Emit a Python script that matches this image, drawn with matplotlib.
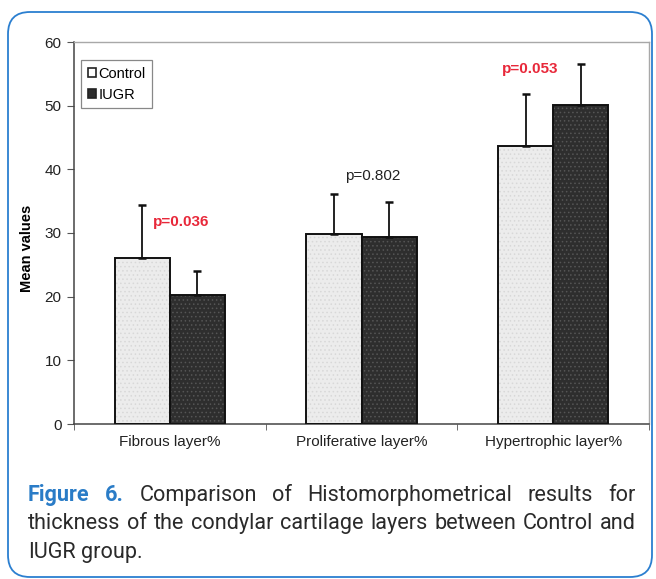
import matplotlib
matplotlib.use("Agg")
import matplotlib.pyplot as plt
from matplotlib.patches import FancyBboxPatch, Patch
from matplotlib.transforms import IdentityTransform
import numpy as np

categories = ["Fibrous layer%", "Proliferative layer%", "Hypertrophic layer%"]
control_mean = [26.1, 29.9, 43.7]
control_err = [8.3, 6.3, 8.1]
iugr_mean = [20.3, 29.3, 50.1]
iugr_err = [3.7, 5.5, 6.5]
p_labels = ["p=0.036", "p=0.802", "p=0.053"]
p_colors = ["#e8283a", "#222222", "#e8283a"]
p_bold = [True, False, True]
p_x = [0.06, 1.06, 1.88]
p_y = [31.8, 38.9, 55.8]
yticks = [0, 10, 20, 30, 40, 50, 60]

W, H = 656, 579
fig = plt.figure(figsize=(W / 100, H / 100), dpi=100)
fig.patch.set_facecolor("white")

# outer rounded border (pixel coordinates)
border = FancyBboxPatch((8, H - 577), 644, 577 - 12,
                        boxstyle="round,pad=0,rounding_size=22",
                        transform=IdentityTransform(), fill=False,
                        edgecolor="#2b7fd0", linewidth=1.3, zorder=0)
fig.patches.append(border)

ax_l, ax_r, ax_t, ax_b = 74, 649, 42, 424
ax = fig.add_axes([ax_l / W, (H - ax_b) / H, (ax_r - ax_l) / W, (ax_b - ax_t) / H])

x = np.arange(len(categories))
bw = 0.287
plt.rcParams["hatch.linewidth"] = 0.6

ax.bar(x - bw / 2, control_mean, bw, color="#ececec", edgecolor="#d8d8d8",
       hatch="....", linewidth=0, zorder=2)
ax.bar(x + bw / 2, iugr_mean, bw, color="#2e2e2e", edgecolor="#555555",
       hatch="....", linewidth=0, zorder=2)
ax.bar(x - bw / 2, control_mean, bw, fill=False, edgecolor="#111111",
       linewidth=1.4, zorder=3)
ax.bar(x + bw / 2, iugr_mean, bw, fill=False, edgecolor="#111111",
       linewidth=1.4, zorder=3)

ax.errorbar(x - bw / 2, control_mean, yerr=[np.zeros(3), control_err],
            fmt="none", ecolor="#111111", elinewidth=1.3, capsize=3,
            capthick=1.8, zorder=4)
ax.errorbar(x + bw / 2, iugr_mean, yerr=[np.zeros(3), iugr_err],
            fmt="none", ecolor="#111111", elinewidth=1.3, capsize=3,
            capthick=1.8, zorder=4)

for lab, c, b, px, py in zip(p_labels, p_colors, p_bold, p_x, p_y):
    ax.text(px, py, lab, color=c, fontsize=11, ha="center", va="center",
            fontweight="bold" if b else "normal", family="Liberation Sans")

ax.set_xlim(-0.5, 2.5)
ax.set_ylim(0, 60)
ax.set_yticks(yticks)
ax.set_yticklabels([str(v) for v in yticks], fontsize=11, color="#222222",
                   family="Liberation Sans")
ax.set_xticks(x)
ax.set_xticklabels(categories, fontsize=11, color="#222222",
                   family="Liberation Sans")
ax.set_xticks([-0.5, 0.5, 1.5, 2.5], minor=True)
ax.tick_params(axis="x", which="major", length=0, pad=8)
ax.tick_params(axis="x", which="minor", length=4, color="#555555", direction="out")
ax.tick_params(axis="y", length=5, color="#555555", direction="out", pad=4)

for s in ["left", "bottom"]:
    ax.spines[s].set_color("#444444")
    ax.spines[s].set_linewidth(1.1)
for s in ["top", "right"]:
    ax.spines[s].set_color("#a8a8a8")
    ax.spines[s].set_linewidth(1.0)

ax.set_ylabel("Mean values", fontsize=10.5, fontweight="bold",
              family="Liberation Sans")
ax.yaxis.set_label_coords((34 - ax_l) / (ax_r - ax_l), 1 - (248 - ax_t) / (ax_b - ax_t))

handles = [Patch(facecolor="white", edgecolor="#222222", linewidth=1.2),
           Patch(facecolor="#2e2e2e", edgecolor="#222222", linewidth=1.2)]
leg = ax.legend(handles, ["Control", "IUGR"], loc="upper left",
                bbox_to_anchor=((81 - ax_l) / (ax_r - ax_l), 1 - (60 - ax_t) / (ax_b - ax_t)),
                borderaxespad=0, fancybox=False, edgecolor="#888888",
                framealpha=1, handlelength=0.6, handleheight=0.6,
                handletextpad=0.15, borderpad=0.45, labelspacing=0.5,
                prop={"family": "Liberation Sans", "size": 10.5})
leg.get_frame().set_linewidth(0.9)

# caption with justification
cap_left, cap_right = 28, 636
blue = "#2a7cc7"
dark = "#2a2a2a"
lines = [
    [("Figure", blue, "bold"), ("6.", blue, "bold"), ("Comparison", dark, "normal"),
     ("of", dark, "normal"), ("Histomorphometrical", dark, "normal"),
     ("results", dark, "normal"), ("for", dark, "normal")],
    [(w, dark, "normal") for w in "thickness of the condylar cartilage layers between Control and".split()],
    [(w, dark, "normal") for w in "IUGR group.".split()],
]
line_y = [501, 529, 558]
justify = [True, True, False]

fig.canvas.draw()
renderer = fig.canvas.get_renderer()

# choose font size so that the second line naturally fills the width
base = 14.0
probe = fig.text(0, 0, " ".join(w for w, _, _ in lines[1]), family="Roboto", fontsize=base)
pw = probe.get_window_extent(renderer).width
probe.remove()
cap_size = base * (cap_right - cap_left) / pw * 0.985
cap_font = dict(family="Roboto", fontsize=cap_size)

for words, yy, just in zip(lines, line_y, justify):
    texts = []
    widths = []
    for w, c, fw in words:
        t = fig.text(0, 1 - yy / H, w, color=c, fontweight=fw, va="baseline",
                     ha="left", **cap_font)
        bb = t.get_window_extent(renderer=renderer)
        texts.append(t)
        widths.append(bb.width)
    sp = fig.text(0, 0, "a b", **cap_font)
    sp2 = fig.text(0, 0, "ab", **cap_font)
    space_w = sp.get_window_extent(renderer).width - sp2.get_window_extent(renderer).width
    sp.remove(); sp2.remove()
    if just and len(words) > 1:
        gap = (cap_right - cap_left - sum(widths)) / (len(words) - 1)
    else:
        gap = space_w
    cx = cap_left
    for t, wd in zip(texts, widths):
        t.set_x(cx / W)
        cx += wd + gap

fig.savefig("out.png", dpi=100, facecolor="white")
